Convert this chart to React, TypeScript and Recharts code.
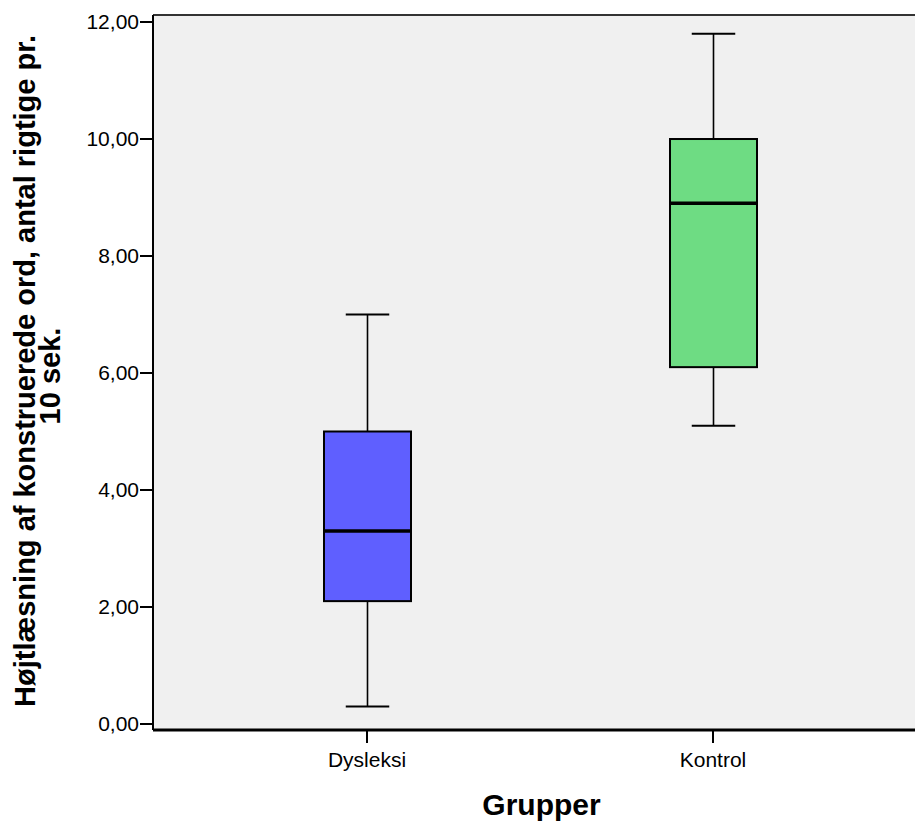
import { ComposedChart, Bar, XAxis, YAxis, CartesianGrid, ReferenceLine, Cell } from 'recharts'

const groups = ['Dysleksi', 'Kontrol']
const mins = [0.3, 5.1]
const q1s = [2.1, 6.1]
const medians = [3.3, 8.9]
const q3s = [5.0, 10.0]
const maxs = [7.0, 11.8]
const boxColors = ['#5f5fff', '#6edc83']
const yTicks = [0, 2, 4, 6, 8, 10, 12]

const Y_MIN = -0.103
const Y_MAX = 12.12

const data = groups.map((g, i) => ({
  group: g,
  min: mins[i],
  q1: q1s[i],
  median: medians[i],
  q3: q3s[i],
  max: maxs[i],
}))

const FONT = '"Liberation Sans", Arial, sans-serif'

const fmt = (v: number) => v.toFixed(2).replace('.', ',')

// the bar spans min..max, box + whiskers are placed inside it
const BoxShape = (props: any) => {
  const { x, y, width, height, payload, fill } = props
  const { min, q1, median, q3, max } = payload
  const k = height / (max - min)
  const py = (v: number) => y + (max - v) * k
  const cx = x + width / 2
  const cap = width / 4
  return (
    <g>
      <line x1={cx} x2={cx} y1={py(max)} y2={py(q3)} stroke="#000" strokeWidth={1.6} />
      <line x1={cx} x2={cx} y1={py(q1)} y2={py(min)} stroke="#000" strokeWidth={1.6} />
      <line x1={cx - cap} x2={cx + cap} y1={py(max)} y2={py(max)} stroke="#000" strokeWidth={2} />
      <line x1={cx - cap} x2={cx + cap} y1={py(min)} y2={py(min)} stroke="#000" strokeWidth={2} />
      <rect x={x} y={py(q3)} width={width} height={py(q1) - py(q3)} fill={fill} stroke="#000" strokeWidth={2} />
      <line x1={x} x2={x + width} y1={py(median)} y2={py(median)} stroke="#000" strokeWidth={3.5} />
    </g>
  )
}

const YTitle = () => (
  <g fontFamily={FONT} fontWeight="bold" fontSize={29} fill="#000">
    <text transform="translate(35, 371) rotate(-90)" textAnchor="middle">
      Højtlæsning af konstruerede ord, antal rigtige pr.
    </text>
    <text transform="translate(60, 376) rotate(-90)" textAnchor="middle">
      10 sek.
    </text>
  </g>
)

export default function App() {
  return (
    <div style={{ position: 'absolute', left: 0, top: 0, width: 915, height: 821, overflow: 'hidden', background: '#fff' }}>
      <ComposedChart
        width={930}
        height={821}
        data={data}
        margin={{ top: 15, right: 0, bottom: 0, left: 0 }}
      >
        <CartesianGrid horizontal={false} vertical={false} fill="#f0f0f0" stroke="none" />
        <ReferenceLine y={Y_MAX} stroke="#333" strokeWidth={2} />
        <XAxis
          dataKey="group"
          height={91}
          padding={{ left: 41, right: 44 }}
          axisLine={{ stroke: '#000', strokeWidth: 3 }}
          tickLine={{ stroke: '#000', strokeWidth: 2 }}
          tickSize={13}
          tickMargin={9}
          tick={{ fill: '#000', fontSize: 21, fontFamily: FONT }}
          label={{
            value: 'Grupper',
            position: 'insideBottom',
            offset: 6,
            style: { fill: '#000', fontSize: 30, fontWeight: 'bold', fontFamily: FONT },
          }}
        />
        <YAxis
          width={153}
          domain={[Y_MIN, Y_MAX]}
          ticks={yTicks}
          allowDataOverflow
          tickFormatter={fmt}
          axisLine={{ stroke: '#000', strokeWidth: 2 }}
          tickLine={{ stroke: '#000', strokeWidth: 2 }}
          tickSize={13}
          tickMargin={1}
          tick={{ fill: '#000', fontSize: 21, fontFamily: FONT }}
          label={<YTitle />}
        />
        <Bar
          dataKey={(d: any) => [d.min, d.max]}
          barSize={87}
          shape={<BoxShape />}
          isAnimationActive={false}
        >
          {data.map((d, i) => (
            <Cell key={d.group} fill={boxColors[i]} />
          ))}
        </Bar>
      </ComposedChart>
    </div>
  )
}
